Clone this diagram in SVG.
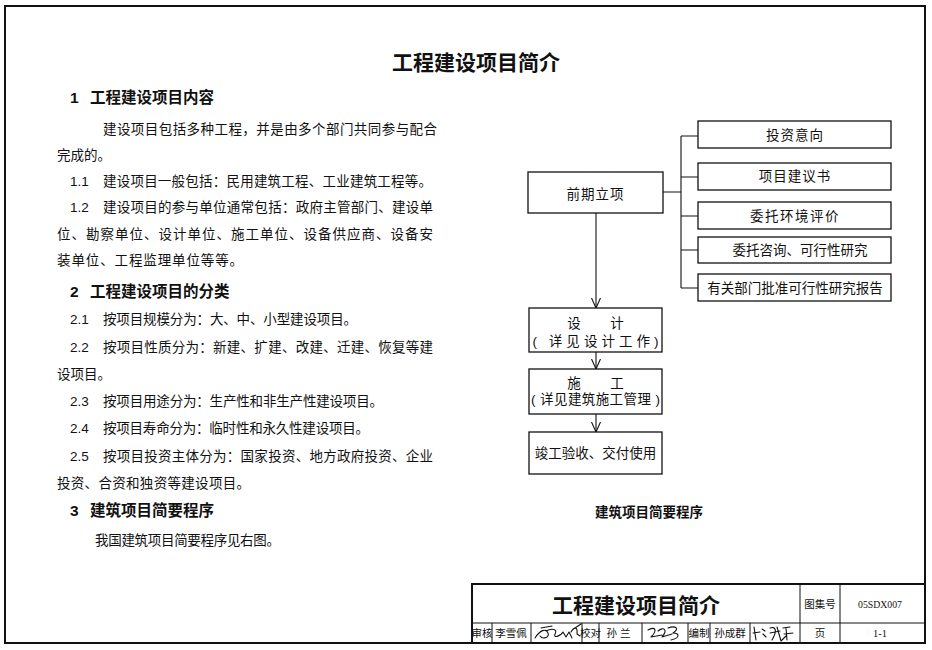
<svg xmlns="http://www.w3.org/2000/svg" width="932" height="650" viewBox="0 0 932 650">
<defs>
<style>
text{font-family:"Liberation Sans","Noto Sans CJK SC",sans-serif;fill:#111}
.t{font-size:13.5px}
.h{font-size:15.5px;font-weight:bold}
.title{font-size:21px;font-weight:bold;text-anchor:middle}
.fc{font-size:13.5px;text-anchor:middle}
.cap{font-size:13.5px;font-weight:bold;text-anchor:middle}
.sm{font-size:10.5px;text-anchor:middle}
.box{fill:#fff;stroke:#111;stroke-width:1.3}
.ln{fill:none;stroke:#111;stroke-width:1.1}
.thick{fill:none;stroke:#111;stroke-width:2}
.thin{fill:none;stroke:#111;stroke-width:1}
.sig{fill:none;stroke:#111;stroke-width:1.1;stroke-linecap:round;stroke-linejoin:round}
</style>
<marker id="arr" viewBox="0 0 10 10" refX="10" refY="5" markerWidth="10" markerHeight="10" markerUnits="userSpaceOnUse" orient="auto">
<path d="M0,0.5 L10,5 L0,9.5" fill="none" stroke="#111" stroke-width="1.1"/>
</marker>
</defs>
<rect width="932" height="650" fill="#fff"/>
<rect id="frame" x="5" y="6" width="920" height="637" class="thick"/>

<text id="main-title" class="title" x="476" y="70">工程建设项目简介</text>

<g id="left-text">
<text class="h" x="70" y="103">1<tspan x="90">工程建设项目内容</tspan></text>
<text class="t" x="103" y="134" textLength="334" lengthAdjust="spacing">建设项目包括多种工程，并是由多个部门共同参与配合</text>
<text class="t" x="57" y="160">完成的。</text>
<text class="t" x="70" y="186">1.1</text>
<text class="t" x="103" y="186" textLength="329" lengthAdjust="spacing">建设项目一般包括：民用建筑工程、工业建筑工程等。</text>
<text class="t" x="70" y="212">1.2</text>
<text class="t" x="103" y="212" textLength="330" lengthAdjust="spacing">建设项目的参与单位通常包括：政府主管部门、建设单</text>
<text class="t" x="57" y="239" textLength="376" lengthAdjust="spacing">位、勘察单位、设计单位、施工单位、设备供应商、设备安</text>
<text class="t" x="57" y="265" textLength="186" lengthAdjust="spacing">装单位、工程监理单位等等。</text>
<text class="h" x="70" y="297">2<tspan x="90">工程建设项目的分类</tspan></text>
<text class="t" x="70" y="324">2.1</text>
<text class="t" x="103" y="324" textLength="254" lengthAdjust="spacing">按项目规模分为：大、中、小型建设项目。</text>
<text class="t" x="70" y="352">2.2</text>
<text class="t" x="103" y="352" textLength="330" lengthAdjust="spacing">按项目性质分为：新建、扩建、改建、迁建、恢复等建</text>
<text class="t" x="57" y="379">设项目。</text>
<text class="t" x="70" y="406">2.3</text>
<text class="t" x="103" y="406" textLength="280" lengthAdjust="spacing">按项目用途分为：生产性和非生产性建设项目。</text>
<text class="t" x="70" y="433">2.4</text>
<text class="t" x="103" y="433" textLength="266" lengthAdjust="spacing">按项目寿命分为：临时性和永久性建设项目。</text>
<text class="t" x="70" y="461">2.5</text>
<text class="t" x="103" y="461" textLength="330" lengthAdjust="spacing">按项目投资主体分为：国家投资、地方政府投资、企业</text>
<text class="t" x="57" y="488" textLength="193" lengthAdjust="spacing">投资、合资和独资等建设项目。</text>
<text class="h" x="70" y="516">3<tspan x="90">建筑项目简要程序</tspan></text>
<text class="t" x="95" y="545" textLength="185" lengthAdjust="spacing">我国建筑项目简要程序见右图。</text>
</g>

<g id="connectors">
<path class="ln" d="M663,192 H681 M681,136 V288 M681,136 H698 M681,177 H698 M681,216 H698 M681,250 H698 M681,288 H698"/>
<line class="ln" x1="596" y1="213" x2="596" y2="308" marker-end="url(#arr)"/>
<line class="ln" x1="596" y1="352" x2="596" y2="369" marker-end="url(#arr)"/>
<line class="ln" x1="596" y1="414" x2="596" y2="432" marker-end="url(#arr)"/>
</g>

<g id="node-qianqi">
<rect class="box" x="528" y="172" width="135" height="41"/>
<text class="fc" x="595.5" y="199" letter-spacing="1">前期立项</text>
</g>
<g id="node-touzi">
<rect class="box" x="698" y="121" width="193" height="27"/>
<text class="fc" x="795" y="140" letter-spacing="1">投资意向</text>
</g>
<g id="node-jianyishu">
<rect class="box" x="698" y="163" width="193" height="27"/>
<text class="fc" x="795" y="181" letter-spacing="1">项目建议书</text>
</g>
<g id="node-huanjing">
<rect class="box" x="698" y="202" width="193" height="27"/>
<text class="fc" x="795" y="221" letter-spacing="1.5">委托环境评价</text>
</g>
<g id="node-zixun">
<rect class="box" x="698" y="237" width="193" height="26"/>
<text class="fc" x="800" y="255">委托咨询、可行性研究</text>
</g>
<g id="node-pizhun">
<rect class="box" x="698" y="274" width="193" height="27"/>
<text class="fc" x="795" y="293">有关部门批准可行性研究报告</text>
</g>
<g id="node-sheji">
<rect class="box" x="529" y="308" width="133" height="44"/>
<text class="fc" x="574" y="328">设</text>
<text class="fc" x="617" y="328">计</text>
<text class="fc" x="595.5" y="346" textLength="126" lengthAdjust="spacing">( 详见设计工作)</text>
</g>
<g id="node-shigong">
<rect class="box" x="529" y="369" width="133" height="45"/>
<text class="fc" x="574" y="388">施</text>
<text class="fc" x="617" y="388">工</text>
<text class="fc" x="595.5" y="404" textLength="129" lengthAdjust="spacing">( 详见建筑施工管理 )</text>
</g>
<g id="node-jungong">
<rect class="box" x="529" y="432" width="133" height="42"/>
<text class="fc" x="595.5" y="458">竣工验收、交付使用</text>
</g>
<text id="caption" class="cap" x="649" y="517">建筑项目简要程序</text>

<g id="title-block">
<rect x="472" y="584" width="453" height="59" class="thick"/>
<line class="thin" x1="472" y1="623" x2="925" y2="623"/>
<path class="thin" d="M800,584 V643 M840,584 V643 M492,623 V643 M531,623 V643 M582,623 V643 M599,623 V643 M642,623 V643 M688,623 V643 M710,623 V643 M750,623 V643"/>
<text x="636" y="613" style="font-size:21px;font-weight:bold;text-anchor:middle">工程建设项目简介</text>
<text class="sm" x="820" y="608">图集号</text>
<text x="880" y="608" style="font-family:'Liberation Serif',serif;font-size:10.5px;text-anchor:middle" textLength="44" lengthAdjust="spacingAndGlyphs">05SDX007</text>
<text class="sm" x="482" y="637">审核</text>
<text class="sm" x="511" y="637">李雪佩</text>
<text class="sm" x="590.5" y="637">校对</text>
<text class="sm" x="620" y="637" letter-spacing="3">孙兰</text>
<text class="sm" x="699" y="637">编制</text>
<text class="sm" x="730" y="637">孙成群</text>
<text class="sm" x="820" y="637">页</text>
<text x="880" y="637" style="font-family:'Liberation Serif',serif;font-size:10.5px;text-anchor:middle">1-1</text>
</g>
<g id="signatures">
<path class="sig" d="M535,638 C540,630 546,628 548,633 C550,637 543,640 540,636 M541,628 L552,626 M546,631 C552,628 558,629 555,634 C553,638 560,637 563,632 L566,637 L569,632 L572,638 M571,632 C574,627 578,626 577,634 L580,636 M575,628 L581,624"/>
<path class="sig" d="M648,630 C655,626 658,630 651,637 L662,635 M658,631 C664,626 668,630 662,637 L672,634 M668,628 C676,625 680,629 673,633 C680,633 680,638 671,640"/>
<path class="sig" d="M754,627 L756,640 M753,633 L760,632 M762,629 L765,631 M763,634 L766,637 M770,628 C775,626 778,630 772,640 M770,633 L780,631 M777,627 L781,641 L786,636 M783,628 L790,627 M786,628 L787,640 M784,634 L793,633"/>
</g>
</svg>
